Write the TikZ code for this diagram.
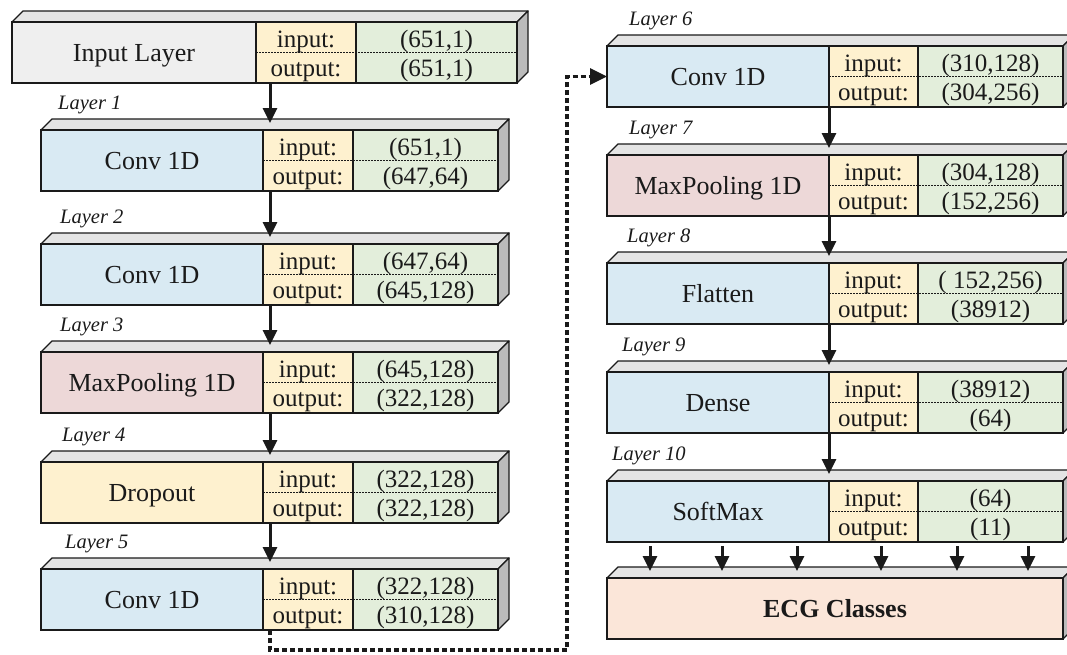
\documentclass[tikz,border=0pt]{standalone}
\usepackage{fontspec}
\setmainfont{Liberation Serif}
\usetikzlibrary{calc,arrows.meta}

\definecolor{inkc}{HTML}{1A1A1A}
\definecolor{inputgray}{HTML}{EFEFEF}
\definecolor{convblue}{HTML}{D9EAF3}
\definecolor{poolpink}{HTML}{EDD8D8}
\definecolor{droptan}{HTML}{FEF1CF}
\definecolor{iotan}{HTML}{FEF1CF}
\definecolor{valgreen}{HTML}{E3EEDB}
\definecolor{ecgpeach}{HTML}{FBE6D9}
\definecolor{topgray}{HTML}{E4E4E4}
\definecolor{sidegray}{HTML}{BBBBBB}

% box geometry (pt): height and depth of the 3D faces
\def\hh{61}
\def\dd{11}

\tikzset{
  cell/.style={draw=inkc, line width=1.3pt, inner sep=0pt, outer sep=0pt,
    minimum height=\hh pt, anchor=north west, text=inkc,
    font=\fontsize{26}{26}\selectfont, text height=17.5pt, text depth=0pt},
  face/.style={draw=inkc, line width=1.3pt, line join=round},
  rim/.style={draw=inkc, line width=2.4pt},
  midline/.style={draw=inkc, line width=1.3pt, dash pattern=on 1.6pt off 1.4pt},
  iotext/.style={inner sep=0pt, anchor=base, text=inkc,
    font=\fontsize{25}{25}\selectfont},
  layerlabel/.style={inner sep=0pt, anchor=base west, text=inkc,
    font=\fontsize{20.5}{20.5}\selectfont\itshape},
  flow/.style={draw=inkc, line width=3pt, -{Triangle[length=15pt,width=14pt]}},
  link/.style={draw=inkc, line width=3.2pt, dash pattern=on 5pt off 3pt,
    -{Triangle[length=17pt,width=16pt]}},
}

% #1 id, #2 x, #3 y (top of front face), #4 fill, #5 name, #6 input shape, #7 output shape
\newcommand{\nnlayer}[7]{%
  \pgfmathsetmacro{\tw}{\nw+\iw+\vw}
  \filldraw[face, fill=topgray] (#2,#3) -- ++(\dd,-\dd) -- ++(\tw,0) -- ++(-\dd,\dd) -- cycle;
  \filldraw[face, fill=sidegray] (#2+\tw,#3) -- ++(\dd,-\dd) -- ++(0,\hh) -- ++(-\dd,\dd) -- cycle;
  \node[cell, fill=#4, minimum width=\nw pt] (#1) at (#2,#3) {#5};
  \node[cell, fill=iotan, minimum width=\iw pt] (#1-io) at (#1.north east) {};
  \node[cell, fill=valgreen, minimum width=\vw pt] (#1-val) at (#1-io.north east) {};
  \draw[midline] (#1-io.west) -- (#1-val.east);
  \node[iotext] (#1-i) at ($(#1-io.north)+(0,25)$) {input:};
  \node[iotext] (#1-o) at ($(#1-io.north)+(0,54)$) {output:};
  \node[iotext] (#1-vi) at ($(#1-val.north)+(0,25)$) {#6};
  \node[iotext] (#1-vo) at ($(#1-val.north)+(0,54)$) {#7};
  \draw[rim] (#1.north west) rectangle (#1-val.south east);
  \coordinate (#1-in) at ($(#1-io.north west)+(\ax,-7)$);
}

\begin{document}
\begin{tikzpicture}[x=1pt, y=-1pt]
\useasboundingbox (0,0) rectangle (1067,654);

% left column
\def\nw{244}\def\iw{100}\def\vw{161}\def\ax{14}
\nnlayer{L0}{12}{22}{inputgray}{Input Layer}{(651,1)}{(651,1)}
\def\nw{222}\def\iw{90}\def\vw{145}\def\ax{7}
\nnlayer{L1}{41}{130}{convblue}{Conv 1D}{(651,1)}{(647,64)}
\nnlayer{L2}{41}{244}{convblue}{Conv 1D}{(647,64)}{(645,128)}
\nnlayer{L3}{41}{352}{poolpink}{MaxPooling 1D}{(645,128)}{(322,128)}
\nnlayer{L4}{41}{462}{droptan}{Dropout}{(322,128)}{(322,128)}
\nnlayer{L5}{41}{569}{convblue}{Conv 1D}{(322,128)}{(310,128)}

% right column
\def\nw{222}\def\iw{89}\def\vw{145}\def\ax{0}
\nnlayer{L6}{607}{46}{convblue}{Conv 1D}{(310,128)}{(304,256)}
\nnlayer{L7}{607}{155}{poolpink}{MaxPooling 1D}{(304,128)}{(152,256)}
\nnlayer{L8}{607}{263}{convblue}{Flatten}{( 152,256)}{(38912)}
\nnlayer{L9}{607}{372}{convblue}{Dense}{(38912)}{(64)}
\nnlayer{L10}{607}{481}{convblue}{SoftMax}{(64)}{(11)}

% output block
\filldraw[face, fill=topgray] (607,578) -- ++(\dd,-\dd) -- ++(456,0) -- ++(-\dd,\dd) -- cycle;
\filldraw[face, fill=sidegray] (1063,578) -- ++(\dd,-\dd) -- ++(0,\hh) -- ++(-\dd,\dd) -- cycle;
\node[cell, fill=ecgpeach, minimum width=456pt, font=\fontsize{26}{26}\selectfont\bfseries] (ecg) at (607,578) {ECG Classes};
\draw[rim] (ecg.north west) rectangle (ecg.south east);

% layer captions
\node[layerlabel] (t1) at (58,109) {Layer 1};
\node[layerlabel] (t2) at (60,223) {Layer 2};
\node[layerlabel] (t3) at (60,331) {Layer 3};
\node[layerlabel] (t4) at (62,441) {Layer 4};
\node[layerlabel] (t5) at (65,548) {Layer 5};
\node[layerlabel] (t6) at (629,25) {Layer 6};
\node[layerlabel] (t7) at (629,134) {Layer 7};
\node[layerlabel] (t8) at (627,242) {Layer 8};
\node[layerlabel] (t9) at (622,351) {Layer 9};
\node[layerlabel] (t10) at (612,460) {Layer 10};

% data flow
\draw[flow] (L1-in |- L0-io.south) -- (L1-in);
\draw[flow] (L2-in |- L1-io.south) -- (L2-in);
\draw[flow] (L3-in |- L2-io.south) -- (L3-in);
\draw[flow] (L4-in |- L3-io.south) -- (L4-in);
\draw[flow] (L5-in |- L4-io.south) -- (L5-in);
\draw[flow] (L7-in |- L6-io.south) -- (L7-in);
\draw[flow] (L8-in |- L7-io.south) -- (L8-in);
\draw[flow] (L9-in |- L8-io.south) -- (L9-in);
\draw[flow] (L10-in |- L9-io.south) -- (L10-in);

% jump from the bottom of the left column to the top of the right one
\coordinate (bend) at (567,650);
\draw[link] (L5-in |- L5-io.south) -- (L5-in |- bend) -- (bend) -- (bend |- L6.west) -- (L6.west);

% softmax to classes
\foreach \dx in {43,115,190,274,350,421}
  \draw[flow] ($(L10.south west)+(\dx,4)$) -- ($(ecg.north west)+(\dx,-7)$);
\end{tikzpicture}
\end{document}
